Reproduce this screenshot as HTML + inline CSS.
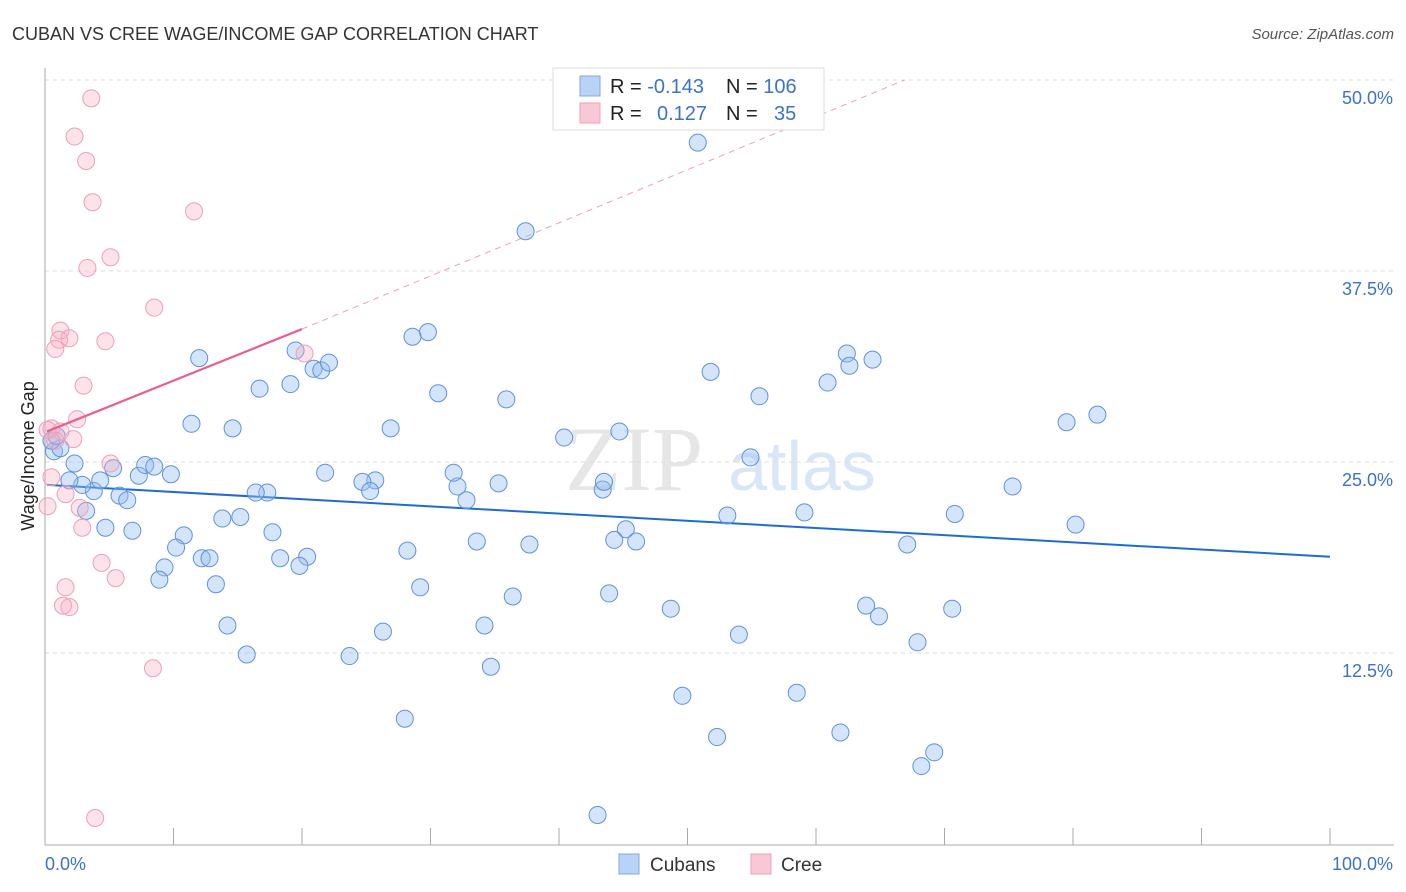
<!DOCTYPE html>
<html><head><meta charset="utf-8"><style>
body{margin:0;background:#fff;font-family:"Liberation Sans",sans-serif}
svg{display:block}
</style></head><body>
<svg id="chart" width="1406" height="892" viewBox="0 0 1406 892" xmlns="http://www.w3.org/2000/svg">
<text x="12" y="40" font-size="18" fill="#333">CUBAN VS CREE WAGE/INCOME GAP CORRELATION CHART</text>
<text x="1394" y="39" font-size="15" font-style="italic" fill="#555" text-anchor="end">Source: ZipAtlas.com</text>
<text x="634" y="490" font-size="92" font-family="Liberation Serif,serif" fill="#e6e6e6" text-anchor="middle">ZIP</text>
<text x="802" y="490" font-size="70" fill="#d8e6f7" text-anchor="middle">atlas</text>
<g id="grid"></g>
<g id="lines"></g>
<g id="pts"></g>
<text transform="translate(34,456) rotate(-90)" font-size="18" fill="#222" text-anchor="middle">Wage/Income Gap</text>
<g>
<rect x="553" y="68" width="271" height="62" fill="#fff" stroke="#ddd"/>
<rect x="580" y="76" width="20" height="20" fill="#b9d3f5" stroke="#7fa9e6"/>
<rect x="580" y="103" width="20" height="20" fill="#f9c8d6" stroke="#eca0b6"/>
<text x="610" y="93" font-size="20" fill="#222">R = <tspan fill="#3b73c9">-0.143</tspan></text>
<text x="726" y="93" font-size="20" fill="#222">N = <tspan fill="#3b73c9">106</tspan></text>
<text x="610" y="120" font-size="20" fill="#222">R = </text><text x="657" y="120" font-size="20" fill="#3b73c9">0.127</text>
<text x="726" y="120" font-size="20" fill="#222">N = </text><text x="774" y="120" font-size="20" fill="#3b73c9">35</text>
</g>
<g>
<rect x="619" y="854" width="20" height="20" fill="#b9d3f5" stroke="#7fa9e6"/>
<text x="650" y="871" font-size="19" fill="#333">Cubans</text>
<rect x="751" y="854" width="20" height="20" fill="#f9c8d6" stroke="#eca0b6"/>
<text x="781" y="871" font-size="19" fill="#333">Cree</text>
</g>
</svg>
<script>
const yTicks=[12.5,25,37.5,50];
const yTickLabels=["12.5%","25.0%","37.5%","50.0%"];
const xTicks=[0,10,20,30,40,50,60,70,80,90,100];
const blueX=[50.8,37.4,29.8,28.6,12.0,19.5,20.9,21.5,22.1,19.1,16.7,30.6,35.9,51.8,55.6,62.4,62.6,64.4,60.9,81.9,79.5,11.4,14.6,26.9,40.4,44.7,54.9,75.3,80.2,70.8,67.1,59.1,53.1,45.2,46.0,44.3,43.4,43.5,35.3,33.6,37.7,32.8,32.1,31.8,25.7,24.7,25.3,21.8,28.2,29.2,36.4,43.9,48.7,54.0,63.9,64.9,70.6,67.9,34.2,26.3,23.7,15.7,14.2,13.3,12.2,12.8,18.3,20.4,19.8,17.7,17.3,16.4,15.2,13.8,10.8,10.2,9.3,8.9,7.3,7.8,8.5,9.8,5.3,5.8,6.4,6.8,4.7,3.2,3.8,2.9,4.3,1.9,2.3,0.7,1.2,0.5,0.9,28.0,34.7,49.6,52.3,58.5,61.9,68.2,69.2,43.0];
const blueY=[45.9,40.1,33.5,33.2,31.8,32.3,31.1,31.0,31.5,30.1,29.8,29.5,29.1,30.9,29.3,32.1,31.3,31.7,30.2,28.1,27.6,27.5,27.2,27.2,26.6,27.0,25.3,23.4,20.9,21.6,19.6,21.7,21.5,20.6,19.8,19.9,23.2,23.7,23.6,19.8,19.6,22.5,23.4,24.3,23.8,23.7,23.1,24.3,19.2,16.8,16.2,16.4,15.4,13.7,15.6,14.9,15.4,13.2,14.3,13.9,12.3,12.4,14.3,17.0,18.7,18.7,18.7,18.8,18.2,20.4,23.0,23.0,21.4,21.3,20.2,19.4,18.1,17.3,24.1,24.8,24.7,24.2,24.6,22.8,22.5,20.5,20.7,21.8,23.1,23.5,23.8,23.8,24.9,25.7,25.9,26.4,26.7,8.2,11.6,9.7,7.0,9.9,7.3,5.1,6.0,1.9];
const pinkX=[3.6,2.3,3.2,3.7,11.6,5.1,3.3,8.5,1.2,1.9,1.1,0.8,4.7,20.2,3.0,2.5,0.5,1.2,0.8,2.2,0.2,0.5,5.1,1.6,2.7,2.9,0.2,4.4,5.5,1.6,1.9,1.4,8.4,3.9];
const pinkY=[48.8,46.3,44.7,42.0,41.4,38.4,37.7,35.1,33.6,33.1,33.0,32.4,32.9,32.1,30.0,27.8,27.2,27.0,26.4,26.5,27.1,24.0,24.9,22.9,22.0,20.7,22.1,18.4,17.4,16.8,15.5,15.6,11.5,1.7];
const blueTrend=[[0,23.5],[100,18.8]];
const pinkTrend=[[0,27.0],[20,33.7]];
const pinkTrendExt=[[20,33.7],[66.9,50]];
const X=v=>45+v*12.85, Y=v=>844-v*15.28;
const NS="http://www.w3.org/2000/svg";
function mk(t,a,p){const e=document.createElementNS(NS,t);for(const k in a)e.setAttribute(k,a[k]);p.appendChild(e);return e;}
const grid=document.getElementById('grid');
yTicks.forEach((t,i)=>{
 const l=mk('line',{x1:45,x2:1394,y1:Y(t),y2:Y(t),stroke:'#ddd','stroke-dasharray':'4,4'},grid);
 
 
 const tx=mk('text',{x:1393,y:Y(t)+24,'font-size':18,fill:'#3b73c9','text-anchor':'end'},grid);
 tx.textContent=yTickLabels[i];
 
 
});
const ax=mk('line',{x1:45,x2:45,y1:68,y2:845,stroke:'#aaa'},grid);


const bx=mk('line',{x1:45,x2:1394,y1:845,y2:845,stroke:'#aaa'},grid);


xTicks.forEach(t=>{
 const l=mk('line',{x1:X(t),x2:X(t),y1:828,y2:845,stroke:'#aaa'},grid);
 
 
});
const x0=mk('text',{x:45,y:870,'font-size':18,fill:'#3b73c9'},grid);x0.textContent='0.0%';


const x1=mk('text',{x:1393,y:870,'font-size':18,fill:'#3b73c9','text-anchor':'end'},grid);x1.textContent='100.0%';


const pts=document.getElementById('pts');
blueX.forEach((v,i)=>{
 const c=mk('circle',{cx:X(v),cy:Y(blueY[i]),r:8.5,fill:'rgba(150,190,240,0.4)',stroke:'#5e92dd','stroke-width':1},pts);
 
 
});
pinkX.forEach((v,i)=>{
 const c=mk('circle',{cx:X(v),cy:Y(pinkY[i]),r:8.5,fill:'rgba(245,175,195,0.35)',stroke:'#eca0b6','stroke-width':1},pts);
 
 
});
const lines=document.getElementById('lines');
const bl=mk('line',{x1:X(blueTrend[0][0])+2,y1:Y(blueTrend[0][1]),x2:X(blueTrend[1][0]),y2:Y(blueTrend[1][1]),stroke:'#1f6bd6','stroke-width':2},lines);


const pe=mk('line',{x1:X(pinkTrendExt[0][0]),y1:Y(pinkTrendExt[0][1]),x2:X(pinkTrendExt[1][0]),y2:Y(pinkTrendExt[1][1]),stroke:'#eca0b6','stroke-width':1,'stroke-dasharray':'6,5'},lines);


const pl=mk('line',{x1:X(pinkTrend[0][0])+2,y1:Y(pinkTrend[0][1]),x2:X(pinkTrend[1][0]),y2:Y(pinkTrend[1][1]),stroke:'#e8608e','stroke-width':2.2},pts);


</script>
</body></html>
